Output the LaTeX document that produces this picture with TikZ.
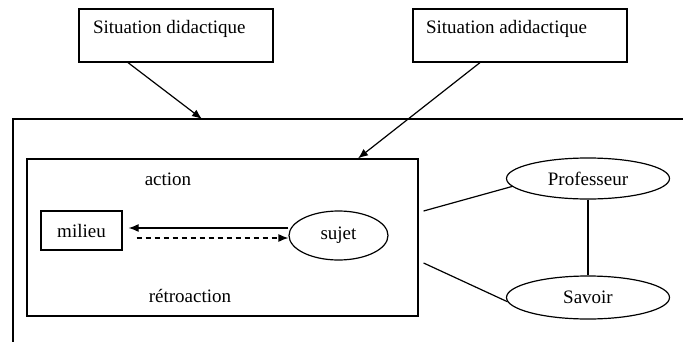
\documentclass[tikz,border=0pt]{standalone}
\usepackage{fontspec}
\setmainfont{Liberation Serif}
\usetikzlibrary{shapes.geometric,arrows.meta,calc}

\begin{document}
\begin{tikzpicture}[x=0.5pt,y=-0.5pt,line width=0.6pt,
    boite/.style={draw,rectangle,inner sep=0pt},
    bulle/.style={draw,ellipse,inner sep=0pt},
    texte/.style={inner sep=0pt},
    fleche/.style={-{Latex[length=5pt,width=4pt]}},
    font=\fontsize{9.5}{11}\selectfont]

    \useasboundingbox (0,0) rectangle (683,342);

    % Situations en haut
    \node[boite,minimum width=97pt,minimum height=26.5pt] (did) at (176,35.5) {};
    \node[texte,anchor=west] (tdid) at ([xshift=7pt,yshift=-10.25pt]did.north west) {Situation didactique};
    \node[boite,minimum width=107pt,minimum height=26.5pt] (adid) at (520,35.5) {};
    \node[texte,anchor=west] (tadid) at ([xshift=6.5pt,yshift=-10.25pt]adid.north west) {Situation adidactique};

    % Cadre ouvert
    \coordinate (f1) at (683,119);
    \coordinate (f2) at (13,119);
    \coordinate (f3) at (13,342);
    \draw (f1) -- (f2) -- (f3);
    \coordinate (cible) at (202,119);

    % Systeme milieu / sujet
    \node[boite,minimum width=195.5pt,minimum height=78.5pt] (cadre) at (222.5,237.5) {};
    \node[texte] (action) at (168,179) {action};
    \node[texte] (retro) at (190,296) {rétroaction};
    \node[boite,minimum width=40.5pt,minimum height=19.5pt] (milieu) at (81.5,230.5) {milieu};
    \node[bulle,minimum width=49.5pt,minimum height=24.5pt] (sujet) at (338.5,235.5) {sujet};

    % Professeur et savoir
    \node[bulle,minimum width=81.5pt,minimum height=20.5pt] (prof) at (588,178.5) {Professeur};
    \node[bulle,minimum width=81.5pt,minimum height=21.5pt] (savoir) at (588,297.5) {Savoir};

    % Fleches des situations
    \draw[fleche] ([xshift=-24pt]did.south) -- (cible);
    \draw[fleche] ([xshift=-20pt]adid.south) -- ([xshift=67.75pt]cadre.north);

    % Action et retroaction
    \coordinate (m1) at ([xshift=3pt,yshift=1.25pt]milieu.east);
    \coordinate (m2) at ([xshift=7pt,yshift=-3.75pt]milieu.east);
    \draw[fleche] (sujet.west |- m1) -- (m1);
    \draw[fleche,dash pattern=on 2.5pt off 2pt] (m2) -- (sujet.west |- m2);

    % Liens
    \coordinate (c1) at ([xshift=2.5pt,yshift=13.25pt]cadre.east);
    \coordinate (c2) at ([xshift=2.5pt,yshift=-12.75pt]cadre.east);
    \draw (c1) -- (prof.186);
    \draw (c2) -- (savoir.183);
    \draw (prof.south) -- (savoir.north);

\end{tikzpicture}
\end{document}
